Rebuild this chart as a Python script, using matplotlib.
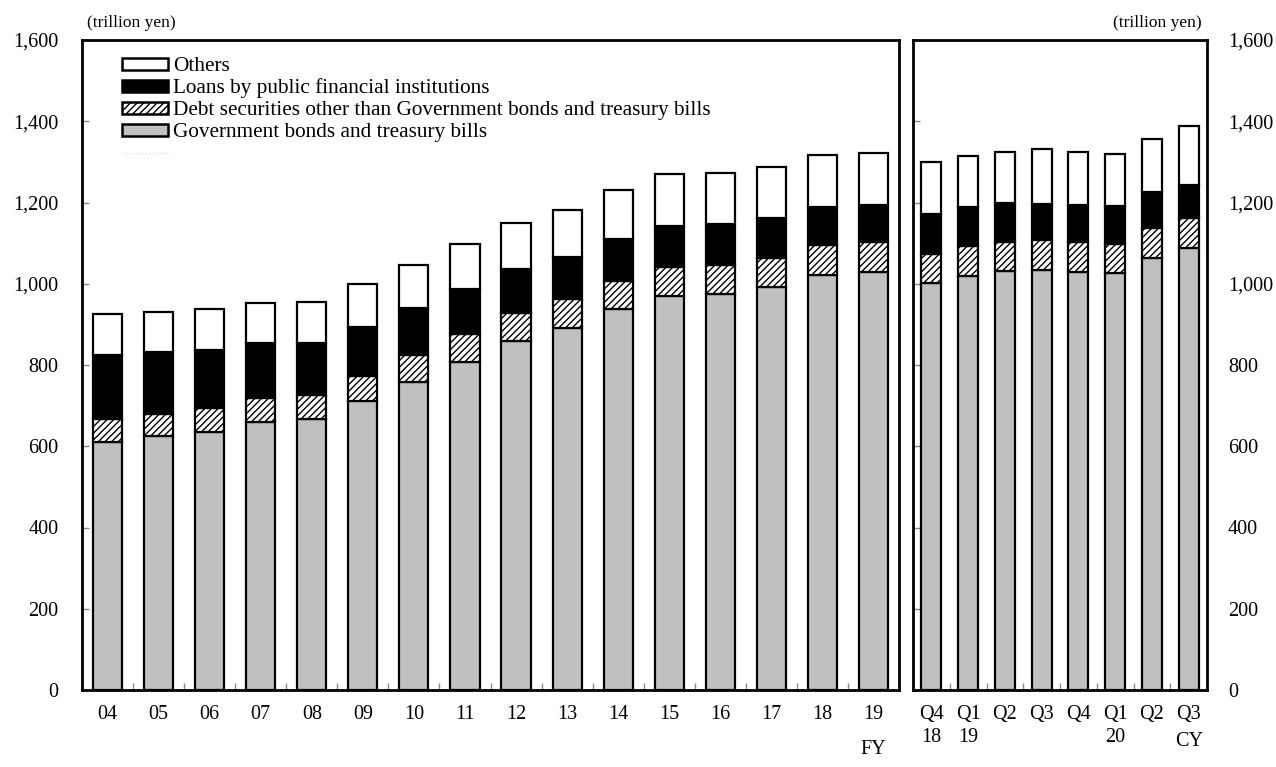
import numpy as np
import matplotlib
matplotlib.use('Agg')
import matplotlib.pyplot as plt
from matplotlib.patches import Rectangle
from matplotlib.ticker import FuncFormatter, FixedLocator

plt.rcParams['font.family'] = ['Liberation Serif', 'DejaVu Serif']
plt.rcParams['hatch.linewidth'] = 1.0

# Fiscal-year panel (cumulative tops of each stacked segment, trillion yen)
fy_labels = ['04', '05', '06', '07', '08', '09', '10', '11',
             '12', '13', '14', '15', '16', '17', '18', '19']
fy_gov = [610, 626, 635, 660, 666, 711, 759, 808,
          858, 892, 937, 971, 976, 993, 1022, 1030]
fy_debt_top = [667, 679, 693, 720, 727, 774, 825, 876,
               928, 962, 1007, 1042, 1047, 1064, 1095, 1102]
fy_loans_top = [824, 831, 838, 854, 853, 894, 940, 986,
                1036, 1067, 1110, 1142, 1148, 1163, 1190, 1193]
fy_total = [925, 930, 938, 953, 955, 1000, 1047, 1097,
            1150, 1182, 1231, 1269, 1273, 1287, 1318, 1322]

# Quarterly panel
q_labels = ['Q4\n18', 'Q1\n19', 'Q2', 'Q3', 'Q4', 'Q1\n20', 'Q2', 'Q3']
q_gov = [1003, 1020, 1031, 1033, 1030, 1027, 1064, 1087]
q_debt_top = [1074, 1092, 1104, 1107, 1103, 1099, 1138, 1162]
q_loans_top = [1171, 1188, 1199, 1197, 1194, 1191, 1225, 1244]
q_total = [1300, 1314, 1325, 1332, 1325, 1320, 1356, 1389]

legend_names = ['Others', 'Loans by public financial institutions',
                'Debt securities other than Government bonds and treasury bills',
                'Government bonds and treasury bills']

W, H = 1276, 767
fig = plt.figure(figsize=(W / 100, H / 100), dpi=100)


def px_rect(x0, x1, ytop, ybot):
    return [x0 / W, 1 - ybot / H, (x1 - x0) / W, (ybot - ytop) / H]


def fx(px):
    return px / W


def fy(py):
    return 1 - py / H


ax1 = fig.add_axes(px_rect(82, 899, 40, 690))
ax2 = fig.add_axes(px_rect(913, 1207, 40, 690))

GRAY = '#c0c0c0'
EDGE = dict(edgecolor='black', linewidth=1.6)
styles = [dict(facecolor='white'),
          dict(facecolor='black'),
          dict(facecolor='white', hatch='/////'),
          dict(facecolor=GRAY)]


def draw_stack(ax, gov, debt_top, loans_top, total, width):
    x = np.arange(len(gov))
    gov = np.array(gov, dtype=float)
    debt = np.array(debt_top) - gov
    loans = np.array(loans_top) - np.array(debt_top)
    others = np.array(total) - np.array(loans_top)
    ax.bar(x, gov, width, color=GRAY, **EDGE, zorder=2)
    ax.bar(x, debt, width, bottom=gov, color='white', hatch='/////', **EDGE, zorder=2)
    ax.bar(x, loans, width, bottom=np.array(debt_top), color='black', **EDGE, zorder=2)
    ax.bar(x, others, width, bottom=np.array(loans_top), color='white', **EDGE, zorder=2)
    return x


x1 = draw_stack(ax1, fy_gov, fy_debt_top, fy_loans_top, fy_total, 0.57)
x2 = draw_stack(ax2, q_gov, q_debt_top, q_loans_top, q_total, 0.55)

fmt = FuncFormatter(lambda v, p: f'{int(v):,}')
for ax, x, labels in ((ax1, x1, fy_labels), (ax2, x2, q_labels)):
    ax.set_ylim(0, 1600)
    ax.set_xlim(-0.5, len(x) - 0.5)
    ax.set_yticks(np.arange(0, 1601, 200))
    ax.yaxis.set_major_formatter(fmt)
    # tick marks between categories, labels under each bar
    ax.xaxis.set_major_locator(FixedLocator(np.arange(0.5, len(x) - 0.5)))
    ax.xaxis.set_major_formatter(FuncFormatter(lambda v, p: ''))
    ax.set_xticks(x, labels, minor=True)
    ax.tick_params(axis='x', which='major', direction='in', length=5,
                   color='#888888', width=1)
    ax.tick_params(axis='x', which='minor', length=0, pad=11, labelsize=14.5)
    for lab in ax.get_xticklabels(minor=True):
        lab.set_linespacing(1.3)
    for s in ax.spines.values():
        s.set_linewidth(2)
        s.set_zorder(3)

ax1.tick_params(axis='y', direction='in', length=5, color='#888888', width=1,
                left=True, right=False, labelleft=True, labelright=False,
                pad=17, labelsize=14.5)
ax2.tick_params(axis='y', direction='in', length=5, color='#888888', width=1,
                left=True, right=False, labelleft=False, labelright=True,
                pad=15, labelsize=14.5)

fig.text(fx(87), fy(23), '(trillion yen)', fontsize=12.5, ha='left', va='center')
fig.text(fx(1202), fy(23), '(trillion yen)', fontsize=12.5, ha='right', va='center')
fig.text(fx(873), fy(750), 'FY', fontsize=14.5, ha='center', va='center')
fig.text(fx(1189), fy(742), 'CY', fontsize=14.5, ha='center', va='center')

# legend drawn by hand so the rows sit close together
row_y = [64, 86, 108, 130]
for name, st, yc in zip(legend_names, styles, row_y):
    fig.patches.append(Rectangle((fx(122), fy(yc + 5.5)), fx(168) - fx(122),
                                 fy(yc - 5.5) - fy(yc + 5.5),
                                 transform=fig.transFigure, edgecolor='black',
                                 linewidth=1.8, **st))
    fig.text(fx(173), fy(yc), name, fontsize=15.3, ha='left', va='center_baseline')
fig.lines.append(plt.Line2D([fx(123), fx(168)], [fy(153), fy(153)],
                            transform=fig.transFigure, color='#e0e0e0',
                            linestyle=':', linewidth=1))

fig.savefig('out.png', dpi=100)
